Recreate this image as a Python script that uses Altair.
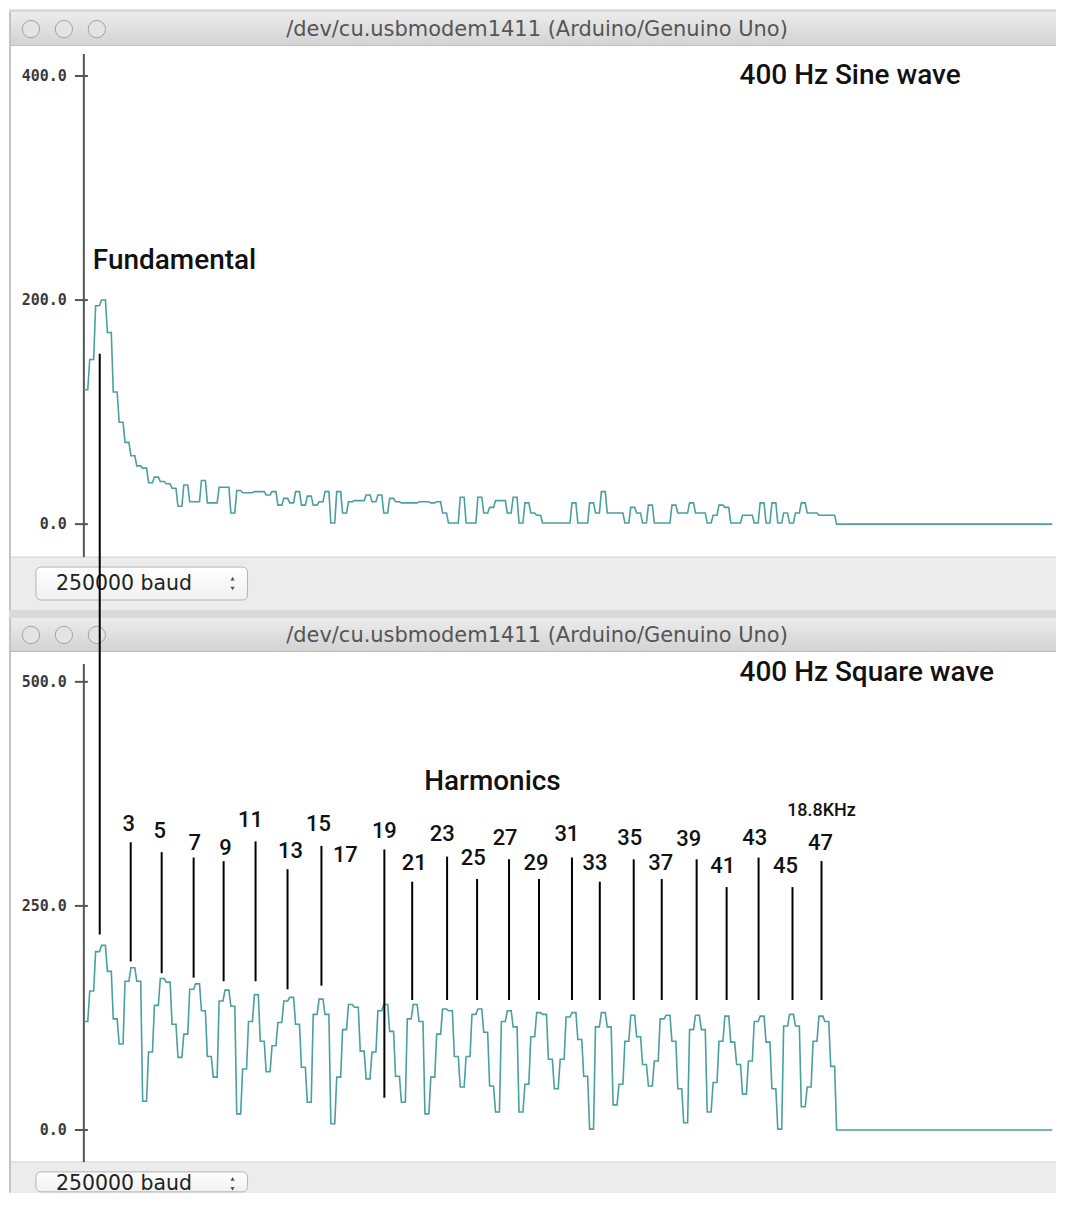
import altair as alt
import numpy as np
import pandas as pd

# ---------------- data ----------------
# FFT bin magnitudes (128 bins), each bin printed 3 times to the serial plotter
sine_bins = [
    120, 147, 195, 200, 171, 118, 91, 73, 61, 52, 50, 37, 42, 38, 36, 32,
    16, 35, 20, 20, 39, 19, 19, 33, 33, 10, 30, 28, 28, 29, 29, 26,
    29, 17, 23, 19, 29, 17, 25, 17, 20, 29, 1, 29, 10, 20, 21, 21,
    26, 20, 26, 10, 23, 20, 19, 19, 19, 20, 20, 19, 20, 10, 1, 1,
    24, 1, 1, 24, 10, 15, 21, 21, 10, 24, 1, 19, 10, 8, 1, 1,
    1, 1, 1, 19, 1, 1, 19, 10, 29, 10, 10, 10, 1, 15, 10, 1,
    17, 1, 1, 1, 17, 10, 10, 19, 10, 10, 1, 8, 17, 15, 1, 1,
    8, 8, 1, 19, 1, 19, 1, 10, 1, 10, 19, 10, 10, 8, 8, 8,
]
square_bins = [
    121, 155, 199, 206, 177, 124, 96, 166, 181, 166, 32, 87, 139, 169, 165, 118,
    81, 107, 157, 163, 133, 82, 59, 144, 156, 138, 18, 68, 121, 151, 99, 65,
    94, 120, 144, 148, 118, 70, 31, 129, 146, 129, 7, 59, 112, 140, 137, 88,
    57, 87, 133, 140, 110, 60, 31, 124, 140, 121, 18, 59, 107, 135, 133, 82,
    48, 82, 129, 135, 109, 49, 20, 121, 133, 115, 20, 51, 104, 131, 129, 79,
    46, 79, 126, 131, 101, 60, 1, 115, 131, 115, 28, 51, 99, 128, 104, 73,
    49, 77, 124, 128, 99, 46, 8, 112, 128, 112, 20, 53, 99, 127, 98, 73,
    40, 77, 121, 127, 98, 46, 1, 116, 129, 116, 26, 48, 99, 127, 121, 71,
]
tail_bins = [0] * 37          # flat zero after the last bin
repeat_per_bin = 3

sine_ticks = [0, 200, 400]
square_ticks = [0, 250, 500]

# harmonic markers (x in plotter sample index, y in square-wave units)
marker_name = ["1", "3", "5", "7", "9", "11", "13", "15", "19", "21", "23", "25",
               "27", "29", "31", "33", "35", "37", "39", "41", "43", "45", "47"]
marker_x = [8.1, 23.9, 39.7, 56.0, 71.3, 87.6, 103.9, 121.2, 153.3, 167.5, 185.3, 200.6,
            216.9, 232.2, 249.0, 263.2, 280.5, 294.8, 312.6, 327.9, 344.2, 361.5, 376.3]
marker_top = [866, 321, 310, 304, 300, 322, 291, 317, 313, 277, 305, 280,
              302, 280, 304, 277, 302, 280, 302, 271, 304, 271, 300]
marker_bottom = [218, 188, 175, 170, 166, 166, 157, 161, 36, 145, 145, 145,
                 145, 145, 145, 145, 145, 145, 145, 145, 145, 145, 145]

label_text = ["3", "5", "7", "9", "11", "13", "15", "17", "19", "21", "23", "25",
              "27", "29", "31", "33", "35", "37", "39", "41", "43", "45", "47"]
label_x = [22.9, 38.7, 56.5, 72.3, 85.0, 105.4, 119.7, 133.4, 153.3, 168.5, 182.8, 198.6,
           214.9, 230.7, 246.4, 260.7, 278.5, 294.3, 308.6, 325.9, 342.2, 357.9, 375.8]
label_y = [341.9, 334.1, 320.7, 315.1, 346.3, 311.8, 341.9, 307.3, 334.1, 298.4, 330.7, 302.9,
           326.3, 298.4, 330.7, 298.4, 326.3, 298.4, 325.2, 294.0, 326.3, 294.0, 320.7]

TITLE = "/dev/cu.usbmodem1411 (Arduino/Genuino Uno)"
BAUD = "250000 baud"

# ---------------- styling ----------------
W = 1049
H_TOP = 606
H_BOT = 580
LINE_COLOR = "#4a9f9f"
BIG_FONT = "Roboto, sans-serif"
UI_FONT = "DejaVu Sans, sans-serif"
MONO = "DejaVu Sans Mono, monospace"

xs = alt.Scale(domain=[0, 500], range=[75, 1057], nice=False, zero=False)


def series_frame(bins):
    vals = list(bins) + tail_bins
    v = np.repeat(vals, repeat_per_bin)
    return pd.DataFrame({"i": np.arange(len(v)), "v": v})


one = pd.DataFrame({"d": [0]})


def vrect(y0, y1, x0=0, x1=W, **kw):
    return alt.Chart(one).mark_rect(**kw).encode(
        x=alt.value(x0), x2=alt.value(x1), y=alt.value(y0), y2=alt.value(y1))


def hline(y, x0=0, x1=W, color="#b5b5b5", width=1):
    return alt.Chart(one).mark_rule(color=color, strokeWidth=width).encode(
        x=alt.value(x0), x2=alt.value(x1), y=alt.value(y))


def light(cx, cy):
    return alt.Chart(one).mark_circle(
        size=300, fill="#e4e4e4", stroke="#a2a2a2", strokeWidth=1, opacity=1).encode(
        x=alt.value(cx), y=alt.value(cy))


def window_chrome(height, tb_top, tb_bot, plot_bot, bar_bot, dd_top, dd_bot, dd_text_y):
    grad = alt.Gradient(gradient="linear",
                        stops=[alt.GradientStop(color="#ececec", offset=0),
                               alt.GradientStop(color="#d2d2d2", offset=1)],
                        x1=0, x2=0, y1=0, y2=1)
    ddgrad = alt.Gradient(gradient="linear",
                          stops=[alt.GradientStop(color="#ffffff", offset=0),
                                 alt.GradientStop(color="#f0f0f0", offset=1)],
                          x1=0, x2=0, y1=0, y2=1)
    cy = (tb_top + tb_bot) / 2
    layers = [
        vrect(0, height, color="#d9d9d9"),
        vrect(tb_top, tb_bot, fill=grad),
        hline(tb_bot, color="#aeaeae"),
        vrect(tb_bot, plot_bot, color="#ffffff"),
        vrect(plot_bot, bar_bot, color="#ececec"),
        hline(plot_bot, color="#d0d0d0"),
        alt.Chart(one).mark_rule(color="#c4c4c4", strokeWidth=2).encode(
            x=alt.value(1), y=alt.value(tb_top), y2=alt.value(bar_bot)),
        light(22, cy), light(55, cy), light(88, cy),
        alt.Chart(one).mark_text(text=TITLE, font=UI_FONT, fontSize=21, color="#555555",
                                 align="center", baseline="middle").encode(
            x=alt.value(529), y=alt.value(cy + 1)),
        alt.Chart(one).mark_rect(fill=ddgrad, stroke="#b3b3b3", strokeWidth=1,
                                 cornerRadius=5).encode(
            x=alt.value(27), x2=alt.value(239), y=alt.value(dd_top), y2=alt.value(dd_bot)),
        alt.Chart(one).mark_text(text=BAUD, font=UI_FONT, fontSize=20.5, color="#222222",
                                 align="left", baseline="middle").encode(
            x=alt.value(47), y=alt.value(dd_text_y)),
        alt.Chart(one).mark_point(shape="triangle-up", filled=True, size=18, color="#555555",
                                  opacity=1).encode(
            x=alt.value(224), y=alt.value(dd_text_y - 5)),
        alt.Chart(one).mark_point(shape="triangle-down", filled=True, size=18, color="#555555",
                                  opacity=1).encode(
            x=alt.value(224), y=alt.value(dd_text_y + 5)),
    ]
    return layers


def plot_layers(bins, ticks, ys, axis_top, axis_bot):
    df = series_frame(bins)
    tdf = pd.DataFrame({"t": ticks})
    return [
        alt.Chart(one).mark_rule(color="#555555", strokeWidth=2).encode(
            x=alt.value(75), y=alt.value(axis_top), y2=alt.value(axis_bot)),
        alt.Chart(tdf).mark_rule(color="#555555", strokeWidth=2).encode(
            y=alt.Y("t:Q", scale=ys, axis=None), x=alt.value(66), x2=alt.value(79)),
        alt.Chart(tdf).mark_text(font=MONO, fontSize=15, fontWeight="bold", color="#3a3a3a",
                                 align="right", baseline="middle").encode(
            y=alt.Y("t:Q", scale=ys, axis=None), x=alt.value(58),
            text=alt.Text("t:Q", format=".1f")),
        alt.Chart(df).mark_line(color=LINE_COLOR, strokeWidth=1.6, interpolate="linear").encode(
            x=alt.X("i:Q", scale=xs, axis=None),
            y=alt.Y("v:Q", scale=ys, axis=None)),
    ]


def big_text(txt, x, y, ys, size=28, align="left", weight=500):
    return alt.Chart(pd.DataFrame({"x": [x], "y": [y], "t": [txt]})).mark_text(
        font=BIG_FONT, fontSize=size, fontWeight=weight, color="#111111",
        align=align, baseline="middle").encode(
        x=alt.X("x:Q", scale=xs, axis=None), y=alt.Y("y:Q", scale=ys, axis=None), text="t:N")


# ---------------- top window: sine ----------------
ys_top = alt.Scale(domain=[0, 400], range=[516, 67], nice=False, zero=False)
top_layers = window_chrome(H_TOP, 3, 37, 549, 602, 559, 592, 575.5)
top_layers += plot_layers(sine_bins, sine_ticks, ys_top, 45, 549)
top_layers += [
    big_text("400 Hz Sine wave", 334.5, 400, ys_top),
    big_text("Fundamental", 4.6, 235, ys_top),
]
top = alt.layer(*top_layers).properties(width=W, height=H_TOP)

# ---------------- bottom window: square ----------------
ys_bot = alt.Scale(domain=[0, 500], range=[517, 68], nice=False, zero=False)
bot_layers = window_chrome(H_BOT, 4, 38, 549, H_BOT, 559, H_BOT - 1, 571)
bot_layers += plot_layers(square_bins, square_ticks, ys_bot, 50, 549)

mdf = pd.DataFrame({"n": marker_name, "x": marker_x, "top": marker_top, "bot": marker_bottom})
ldf = pd.DataFrame({"t": label_text, "x": label_x, "y": label_y})
bot_layers += [
    alt.Chart(mdf).mark_rule(color="#000000", strokeWidth=2).encode(
        x=alt.X("x:Q", scale=xs, axis=None),
        y=alt.Y("top:Q", scale=ys_bot, axis=None), y2="bot:Q"),
    alt.Chart(ldf).mark_text(font=BIG_FONT, fontSize=22, fontWeight=500, color="#111111",
                             align="center", baseline="middle").encode(
        x=alt.X("x:Q", scale=xs, axis=None), y=alt.Y("y:Q", scale=ys_bot, axis=None),
        text="t:N"),
    big_text("400 Hz Square wave", 334.5, 510, ys_bot),
    big_text("Harmonics", 173.6, 388.6, ys_bot),
    big_text("18.8KHz", 376.3, 356.4, ys_bot, size=18, align="center"),
]
bottom = alt.layer(*bot_layers).properties(width=W, height=H_BOT)

chart = alt.vconcat(top, bottom, spacing=0, bounds="flush").properties(
    padding=0, background="#ffffff",
    autosize=alt.AutoSizeParams(type="pad")
).configure_view(stroke=None)

chart.save("out.html", embed_options={"renderer": "svg", "actions": False})
